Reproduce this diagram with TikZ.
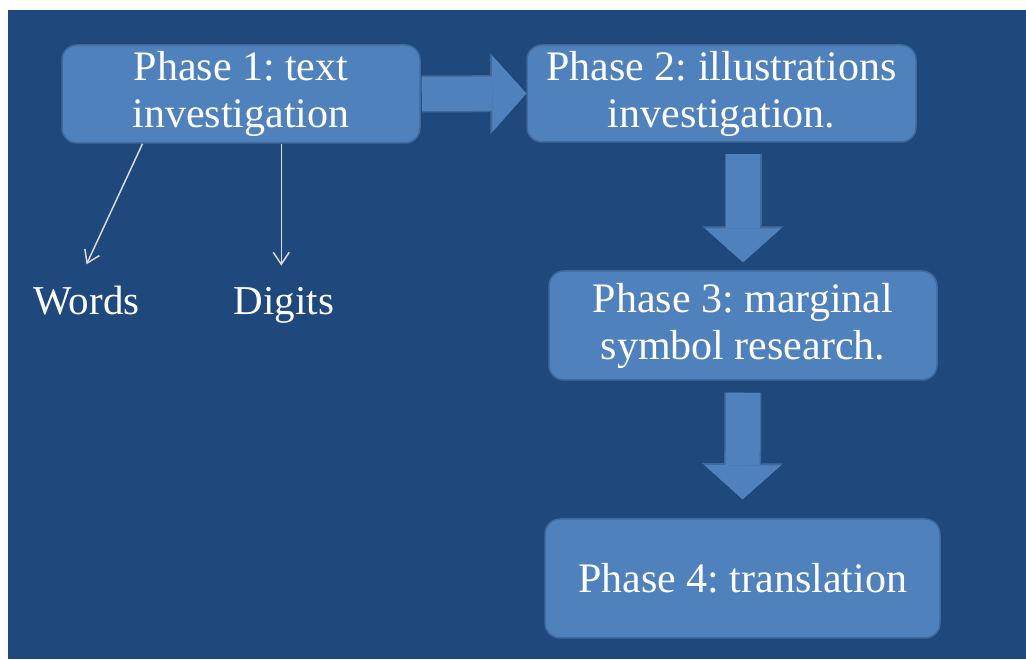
\documentclass[tikz,border=0pt]{standalone}
\usepackage{fontspec}
\setmainfont{Liberation Serif}
\usetikzlibrary{arrows.meta,calc}
\definecolor{slidebg}{HTML}{1F497D}
\definecolor{phasefill}{HTML}{4F81BD}
\definecolor{phaseedge}{HTML}{42699B}
\definecolor{thinline}{HTML}{D9D9D9}
\frenchspacing
\begin{document}
\begin{tikzpicture}[x=1pt,y=1pt,
	    phase/.style={draw=phaseedge, line width=1.5pt, fill=phasefill, rounded corners=15pt,
	      text=white, align=center, font=\fontsize{42}{47}\selectfont, inner sep=0pt},
	    branch/.style={text=white, font=\fontsize{41}{46}\selectfont, anchor=base,
	      inner xsep=2pt, inner ysep=22pt},
	    fatarrow/.style={draw=phasefill, line width=34pt,
	      -{Triangle[width=76pt,length=34pt,line width=0.1pt]},
	      preaction={draw=phaseedge, line width=37pt,
	        -{Triangle[width=81pt,length=36pt,line width=0.1pt]}}},
	    thinarrow/.style={draw=thinline, line width=1.5pt, -{Straight Barb[length=12pt,width=16pt]}}]
	    \useasboundingbox (0,0) rectangle (1026,659);
	    \fill[white] (0,0) rectangle (1026,659);
	    \fill[slidebg] (8,0) rectangle (1026,649);
	    \node[phase, minimum width=358pt, minimum height=98pt] (phase1) at (241,565) {Phase 1: text\\investigation};
	    \node[phase, minimum width=389pt, minimum height=97pt] (phase2) at (721.5,565.5) {Phase 2: illustrations\\investigation.};
	    \node[phase, minimum width=388pt, minimum height=109pt] (phase3) at (743,333.5) {Phase 3: marginal\\symbol research.};
	    \node[phase, minimum width=395pt, minimum height=119pt] (phase4) at (742.5,80.5) {Phase 4: translation};
	    \node[branch] (words) at (86.5,344) {Words};
	    \node[branch] (digits) at (284,344) {Digits};
	    \coordinate (wstart) at ($(phase1.south west)!0.226!(phase1.south east)$);
	    \coordinate (dstart) at ($(phase1.south west)!0.612!(phase1.south east)$);
	    \draw[fatarrow, shorten <=1pt] (phase1.east) -- (phase2.west);
	    \draw[fatarrow, shorten <=11pt, shorten >=8pt] (phase3.north |- phase2.south) -- (phase3.north);
	    \draw[fatarrow, shorten <=12pt, shorten >=19pt] (phase3.south) -- (phase4.north);
	    \draw[thinarrow] (wstart) -- (words.north);
	    \draw[thinarrow] (dstart) -- (dstart |- digits.north);
\end{tikzpicture}
\end{document}
